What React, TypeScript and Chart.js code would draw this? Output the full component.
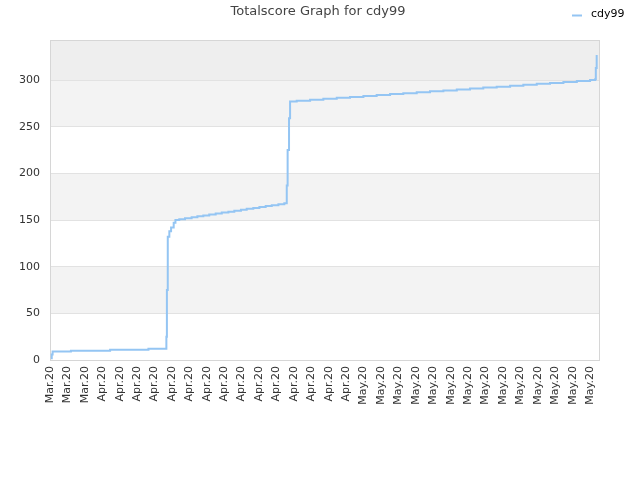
import React, { useEffect, useRef } from 'react';
import { Chart, registerables } from 'chart.js';

Chart.register(...registerables);

const titleText = 'Totalscore Graph for cdy99';
const seriesName = 'cdy99';

const xTickLabels = [
  'Mar.20', 'Mar.20', 'Mar.20',
  'Apr.20', 'Apr.20', 'Apr.20', 'Apr.20', 'Apr.20', 'Apr.20', 'Apr.20', 'Apr.20',
  'Apr.20', 'Apr.20', 'Apr.20', 'Apr.20', 'Apr.20', 'Apr.20', 'Apr.20',
  'May.20', 'May.20', 'May.20', 'May.20', 'May.20', 'May.20', 'May.20',
  'May.20', 'May.20', 'May.20', 'May.20', 'May.20', 'May.20', 'May.20',
];

// x positions in label-index units, y = total score
const scoreX = [
  0.05, 0.1, 0.15, 1.2, 3.45, 5.65, 6.68, 6.71, 6.76, 6.85, 6.95, 7.1, 7.2,
  7.42, 7.75, 8.13, 8.46, 8.8, 9.14, 9.51, 9.86, 10.24, 10.58, 10.96, 11.29,
  11.67, 12.02, 12.38, 12.73, 13.11, 13.45, 13.59, 13.64, 13.72, 13.78,
  14.16, 14.93, 15.69, 16.46, 17.22, 17.99, 18.75, 19.52, 20.28, 21.05, 21.81,
  22.58, 23.35, 24.11, 24.87, 25.64, 26.41, 27.17, 27.94, 28.7, 29.47, 30.24,
  31.0, 31.29, 31.33, 31.38,
];
const scoreY = [
  2, 6, 9, 10, 11, 12, 25, 75, 132, 138, 142, 147, 150,
  151, 152, 153, 154, 155, 156, 157, 158, 159, 160, 161, 162,
  163, 164, 165, 166, 167, 168, 187, 225, 259, 277,
  278, 279, 280, 281, 282, 283, 284, 285, 286, 287, 288,
  289, 290, 291, 292, 293, 294, 295, 296, 297, 298, 299,
  300, 301, 313, 327,
];

const yMax = 343;
const xMax = 31.57;

const FONT = 'DejaVu Sans';

const decorPlugin = {
  id: 'decor',
  beforeDraw(chart: any) {
    const { ctx, chartArea, scales } = chart;
    const y = scales.y;
    const ticks = y.ticks.map((t: any) => t.value);
    ctx.save();
    ctx.fillStyle = '#ffffff';
    ctx.fillRect(chartArea.left, chartArea.top, chartArea.right - chartArea.left, chartArea.bottom - chartArea.top);
    for (let i = 0; i < ticks.length; i++) {
      const lo = ticks[i];
      const hi = i + 1 < ticks.length ? ticks[i + 1] : y.max;
      const isTop = i + 1 >= ticks.length;
      let color: string | null = null;
      if (isTop) color = '#eeeeee';
      else if (i % 2 === 1) color = '#f3f3f3';
      if (!color) continue;
      const yTop = y.getPixelForValue(hi);
      const yBot = y.getPixelForValue(lo);
      ctx.fillStyle = color;
      ctx.fillRect(chartArea.left, yTop, chartArea.right - chartArea.left, yBot - yTop);
    }
    ctx.restore();
  },
  beforeDatasetsDraw(chart: any) {
    const { ctx, chartArea } = chart;
    ctx.save();
    ctx.strokeStyle = '#d6d6d6';
    ctx.lineWidth = 1;
    ctx.strokeRect(chartArea.left + 0.5, chartArea.top + 0.5, chartArea.right - chartArea.left - 1, chartArea.bottom - chartArea.top);
    ctx.restore();
  },
  afterDraw(chart: any) {
    const { ctx } = chart;
    ctx.save();
    ctx.fillStyle = '#444444';
    ctx.font = `13px "${FONT}"`;
    ctx.textAlign = 'center';
    ctx.textBaseline = 'middle';
    ctx.fillText(titleText, 318, 12);
    ctx.strokeStyle = '#94c5f3';
    ctx.lineWidth = 2;
    ctx.beginPath();
    ctx.moveTo(572, 15.5);
    ctx.lineTo(582, 15.5);
    ctx.stroke();
    ctx.fillStyle = '#000000';
    ctx.font = `11px "${FONT}"`;
    ctx.textAlign = 'left';
    ctx.fillText(seriesName, 591, 14.5);
    ctx.restore();
  },
};

export default function App() {
  const ref = useRef<HTMLCanvasElement | null>(null);
  useEffect(() => {
    if (!ref.current) return;
    const chart = new Chart(ref.current, {
      type: 'line',
      data: {
        datasets: [
          {
            label: seriesName,
            data: scoreX.map((x, i) => ({ x, y: scoreY[i] })),
            borderColor: '#94c5f3',
            backgroundColor: '#94c5f3',
            borderWidth: 2,
            pointRadius: 0,
            stepped: 'before',
            fill: false,
          },
        ],
      },
      options: {
        responsive: false,
        devicePixelRatio: 1,
        animation: false,
        layout: { padding: { top: 40, right: 40, left: 0, bottom: 0 } },
        plugins: {
          legend: { display: false },
          title: { display: false },
          tooltip: { enabled: false },
        },
        scales: {
          x: {
            type: 'linear',
            min: 0,
            max: xMax,
            afterFit: (s: any) => {
              s.height = 120;
            },
            grid: { display: false, drawTicks: false },
            border: { display: false },
            ticks: {
              stepSize: 1,
              autoSkip: false,
              includeBounds: false,
              maxRotation: 90,
              minRotation: 90,
              padding: 6,
              color: '#333333',
              font: { family: FONT, size: 11 },
              callback: (v: any) => {
                const n = Number(v);
                return Number.isInteger(n) && xTickLabels[n] !== undefined ? xTickLabels[n] : '';
              },
            },
          },
          y: {
            min: 0,
            max: yMax,
            afterFit: (s: any) => {
              s.width = 50;
            },
            grid: { color: '#e2e2e2', drawTicks: false },
            border: { display: false },
            ticks: {
              stepSize: 50,
              includeBounds: false,
              padding: 10,
              color: '#333333',
              font: { family: FONT, size: 11 },
            },
          },
        },
      },
      plugins: [decorPlugin],
    } as any);
    return () => chart.destroy();
  }, []);
  return (
    <div style={{ position: 'fixed', left: 0, top: 0, width: 640, height: 480, background: '#ffffff' }}>
      <canvas ref={ref} width={640} height={480} style={{ display: 'block', width: 640, height: 480 }} />
    </div>
  );
}
